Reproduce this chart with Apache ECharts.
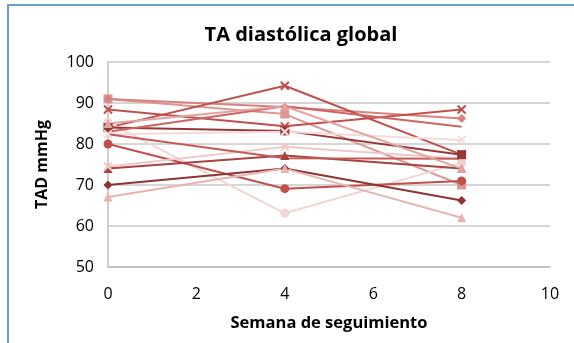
<!DOCTYPE html>
<html lang="es">
<head>
    <meta charset="UTF-8">
    <title>TA diastólica global</title>
    <script src="https://cdn.jsdelivr.net/npm/echarts@6/dist/echarts.min.js"></script>
    <style>
        html, body{
            margin: 0;
            padding: 0;
            background: #fff;
        }
        #frame{
            position: absolute;
            left: 7px;
            top: 4px;
            width: 567px;
            height: 339px;
            border-left: 2px solid #6a9bd1;
            border-top: 2px solid #6a9bd1;
        }
        #main{
            position: absolute;
            left: 0;
            top: 0;
            width: 574px;
            height: 343px;
        }
    </style>
</head>
<body>
<div id="frame"></div>
<div id="main"></div>
<script>
    // semanas de seguimiento
    var weeks = [0, 4, 8];
    var xTicks = [0, 2, 4, 6, 8, 10];
    var yTicks = [50, 60, 70, 80, 90, 100];

    // TAD por paciente (semana 0, 4, 8)
    var p1 = [91, 87.3, 70];
    var p2 = [91, 89, 86.2];
    var p3 = [88.4, 84.3, 88.4];
    var p4 = [84, 94.2, 77.4];
    var p5 = [85.3, 63.1, 75.4];
    var p6 = [80, 69.1, 71];
    var p7 = [70, 74, 66.2];
    var p8 = [67.1, 74, 62];
    var p9 = [74, 77.2, 74];
    var p10 = [74.5, 79.3, 76.4];
    var p11 = [84, 83.2, 77.4];
    var p12 = [83, 89.2, 84.2];
    var p13 = [82.4, 83, 81];
    var p14 = [82.4, 76.5, 76.4];
    var p15 = [85, 89.2, 74];

    var patients = [p1, p2, p3, p4, p5, p6, p7, p8, p9, p10, p11, p12, p13, p14, p15];
    var colors = ['#dc9896', '#d9827f', '#c0504d', '#c0504d', '#f0d6d5', '#c0504d', '#8c3533',
                  '#e6b4b2', '#a8423f', '#f0c8c6', '#953735', '#cd6562', '#f2dcdb', '#c55a57', '#e3a3a1'];
    var symbols = ['rect', 'diamond', 'path://M0,0L10,10M10,0L0,10', 'path://M0,0L10,10M10,0L0,10',
                   'circle', 'circle', 'diamond', 'triangle', 'triangle',
                   'path://M0,0L10,10M10,0L0,10', 'rect', 'none', 'path://M0,0L10,10M10,0L0,10', 'none', 'triangle'];

    var series = patients.map(function(vals, i){
        var isCross = symbols[i].indexOf('path://') === 0;
        return {
            type: 'line',
            data: weeks.map(function(w, j){ return [w, vals[j]]; }),
            symbol: symbols[i],
            symbolSize: isCross ? 8 : 9,
            showSymbol: symbols[i] !== 'none',
            lineStyle: {color: colors[i], width: 2},
            itemStyle: {
                color: colors[i],
                borderColor: colors[i],
                borderWidth: isCross ? 2 : 0
            },
            emphasis: {disabled: true},
            animation: false
        };
    });

    var chart = echarts.init(document.getElementById('main'));
    chart.setOption({
        title: {
            text: 'TA diastólica global',
            left: 296,
            top: 20,
            textAlign: 'center',
            textStyle: {fontFamily: 'Open Sans', fontWeight: 'bold', fontSize: 20, color: '#000'}
        },
        grid: {left: 108, right: 24, top: 62, bottom: 76},
        xAxis: {
            type: 'value',
            min: xTicks[0],
            max: xTicks[xTicks.length - 1],
            interval: 2,
            name: 'Semana de seguimiento',
            nameLocation: 'middle',
            nameGap: 48,
            nameTextStyle: {fontFamily: 'Open Sans', fontWeight: 'bold', fontSize: 16.5, color: '#000'},
            axisLine: {lineStyle: {color: '#bfbfbf', width: 1.5}},
            axisTick: {show: false},
            axisLabel: {fontFamily: 'Open Sans', fontSize: 16, color: '#000', margin: 19},
            splitLine: {show: false}
        },
        yAxis: {
            type: 'value',
            min: yTicks[0],
            max: yTicks[yTicks.length - 1],
            interval: 10,
            name: 'TAD mmHg',
            nameLocation: 'middle',
            nameGap: 58,
            nameTextStyle: {fontFamily: 'Open Sans', fontWeight: 'bold', fontSize: 16, color: '#000'},
            axisLine: {show: true, lineStyle: {color: '#bfbfbf', width: 1.5}},
            axisTick: {show: false},
            axisLabel: {fontFamily: 'Open Sans', fontSize: 16, color: '#000', margin: 14},
            splitLine: {lineStyle: {color: '#c8c8c8', width: 1.5}}
        },
        series: series
    });
</script>
</body>
</html>
